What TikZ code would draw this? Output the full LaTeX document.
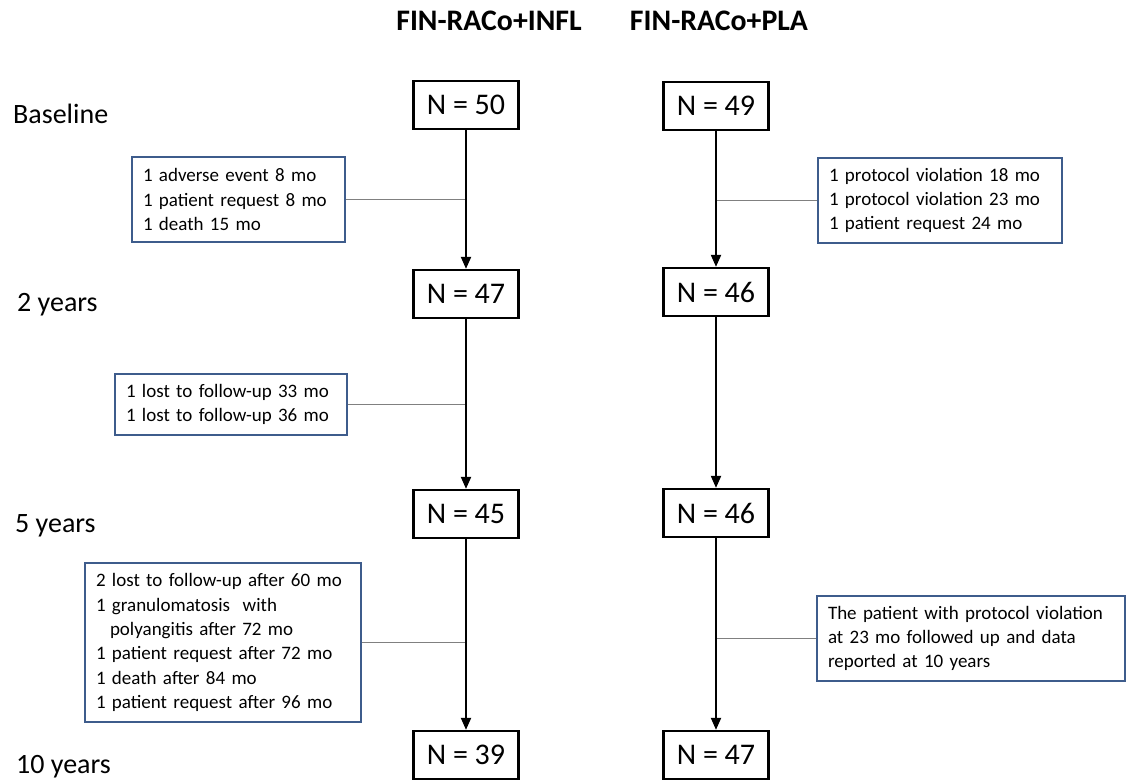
\documentclass[tikz,border=0pt]{standalone}
\usepackage{fontspec}
\setmainfont{Carlito}
\usetikzlibrary{positioning, arrows.meta}

\definecolor{noteblue}{RGB}{62,92,140}
\definecolor{linkgray}{RGB}{128,128,128}
\hyphenpenalty=10000

\begin{document}
\begin{tikzpicture}[x=1pt, y=-1pt,
    countbox/.style={draw=black, line width=2.3pt, minimum width=105pt, minimum height=48pt, inner sep=0pt, font=\fontsize{30}{36}\selectfont},
    notebox/.style={draw=noteblue, line width=1.3pt, align=left, inner xsep=11pt, inner ysep=0pt, font=\fontsize{19}{24.3}\selectfont},
    rowlabel/.style={anchor=base west, inner sep=0pt, font=\fontsize{28}{34}\selectfont},
    armtitle/.style={inner sep=0pt, font=\bfseries\fontsize{29.8}{36}\selectfont},
    flow/.style={-{Triangle[width=10pt,length=12pt]}, line width=2pt},
    link/.style={draw=linkgray, line width=1pt}]

    \useasboundingbox (0,0) rectangle (1128,782);

    % Arm titles
    \node[armtitle] (infl) at (489,21) {FIN-RACo+INFL};
    \node[armtitle] (pla) at (719,21) {FIN-RACo+PLA};

    % Time points
    \node[rowlabel] (base) at (13,123) {Baseline};
    \node[rowlabel] (yr2) at (17,311) {2 years};
    \node[rowlabel] (yr5) at (15,532) {5 years};
    \node[rowlabel] (yr10) at (16,773) {10 years};

    % Define nodes, INFL arm
    \node[countbox] (n50) at (466,105) {N = 50};
    \node[countbox] (n47) at (466,294) {N = 47};
    \node[countbox] (n45) at (466,514) {N = 45};
    \node[countbox] (n39) at (466,755) {N = 39};

    % Define nodes, PLA arm
    \node[countbox] (n49) at (716,106) {N = 49};
    \node[countbox] (n46a) at (716,292) {N = 46};
    \node[countbox] (n46b) at (716,513) {N = 46};
    \node[countbox] (n47b) at (716,755) {N = 47};

    % Drop-out notes
    \node[notebox, text width=191pt, minimum height=85pt] (dropA) at (238.5,199.5)
        {1 adverse event 8 mo\\1 patient request 8 mo\\1 death 15 mo};
    \node[notebox, text width=210pt, minimum height=61pt] (dropB) at (231,404.5)
        {1 lost to follow-up 33 mo\\1 lost to follow-up 36 mo};
    \node[notebox, text width=254pt, minimum height=159pt] (dropC) at (223,642.5)
        {2 lost to follow-up after 60 mo\\1 granulomatosis \ with\\\hspace*{14pt}polyangitis after 72 mo\\1 patient request after 72 mo\\1 death after 84 mo\\1 patient request after 96 mo};
    \node[notebox, text width=222pt, minimum height=85pt] (dropD) at (940,200.5)
        {1 protocol violation 18 mo\\1 protocol violation 23 mo\\1 patient request 24 mo};
    \node[notebox, text width=286pt, minimum height=85pt] (dropE) at (971,638.5)
        {The patient with protocol violation\\at 23 mo followed up and data\\reported at 10 years};

    % Lines from the notes to the arms
    \draw[link] (dropA.east) -- (dropA.east -| n50);
    \draw[link] (dropB.east) -- (dropB.east -| n47);
    \draw[link] (dropC.east) -- (dropC.east -| n45);
    \draw[link] (dropD.west) -- (dropD.west -| n49);
    \draw[link] (dropE.west) -- (dropE.west -| n46b);

    % Arrows down each arm
    \draw[flow] (n50) -- (n47);
    \draw[flow] (n47) -- (n45);
    \draw[flow] (n45) -- (n39);
    \draw[flow] (n49) -- (n46a);
    \draw[flow] (n46a) -- (n46b);
    \draw[flow] (n46b) -- (n47b);
\end{tikzpicture}
\end{document}
